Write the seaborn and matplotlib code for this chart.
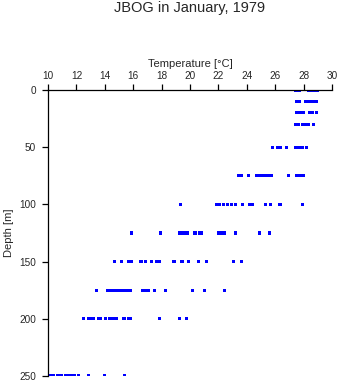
import matplotlib
matplotlib.use("Agg")
import matplotlib.pyplot as plt
import seaborn as sns
import pandas as pd

depths = [0, 10, 20, 30, 50, 75, 100, 125, 150, 175, 200, 250]
t_0 = [27.43, 27.55, 27.7, 28.35, 28.5, 28.65, 28.8, 28.98]
t_10 = [27.5, 27.7, 28.13, 28.3, 28.5, 28.7, 28.9]
t_20 = [27.5, 27.75, 28.0, 28.4, 28.65, 28.9]
t_30 = [27.43, 27.65, 27.9, 28.1, 28.35, 28.7]
t_50 = [25.8, 26.16, 26.37, 26.8, 27.43, 27.6, 27.75, 27.92, 28.2]
t_75 = [23.42, 23.63, 24.12, 24.68, 24.9, 25.1, 25.3, 25.5, 25.74, 26.94, 27.5, 27.75, 28.0]
t_100 = [19.3, 21.87, 22.08, 22.36, 22.64, 22.9, 23.2, 23.7, 24.19, 24.4, 25.32, 25.67, 26.34, 27.92]
t_125 = [15.85, 17.92, 19.26, 19.45, 19.64, 19.82, 20.35, 20.67, 20.8, 22.0, 22.2, 22.43, 23.2, 24.9, 25.6]
t_150 = [14.68, 15.18, 15.67, 15.88, 16.55, 16.87, 17.32, 17.64, 17.85, 18.87, 19.44, 19.9, 20.6, 21.16, 23.06, 23.63]
t_175 = [13.42, 14.19, 14.4, 14.6, 14.8, 15.0, 15.2, 15.4, 15.6, 15.81, 16.65, 16.87, 17.08, 17.5, 18.27, 20.18, 21.02, 22.43]
t_200 = [12.5, 12.85, 13.05, 13.2, 13.56, 13.7, 14.05, 14.3, 14.54, 14.7, 14.82, 15.35, 15.67, 15.81, 17.85, 19.26, 19.75]
t_250 = [10.18, 10.39, 10.67, 10.8, 10.95, 11.23, 11.45, 11.65, 11.87, 12.15, 12.85, 13.98, 15.39]
temps_by_depth = [t_0, t_10, t_20, t_30, t_50, t_75, t_100, t_125, t_150, t_175, t_200, t_250]

x_ticks = [10, 12, 14, 16, 18, 20, 22, 24, 26, 28, 30]
y_ticks = [0, 50, 100, 150, 200, 250]

rows = []
for d, ts in zip(depths, temps_by_depth):
    for t in ts:
        rows.append({"Temperature": t, "Depth": d})
df = pd.DataFrame(rows)

sns.set_style("white")
plt.rcParams["font.family"] = ["Liberation Sans", "DejaVu Sans"]

fig = plt.figure(figsize=(3.41, 3.84), dpi=100)
ax = fig.add_axes([48/341, 1-376/384, (332-48)/341, (376-90)/384])

sns.scatterplot(data=df, x="Temperature", y="Depth", ax=ax, marker="s",
                s=5, color="#0000ff", edgecolor="none", linewidth=0, legend=False)

ax.set_xlim(10, 30)
ax.set_ylim(250, 0)
ax.set_xticks(x_ticks)
ax.set_yticks(y_ticks)
ax.xaxis.tick_top()
ax.xaxis.set_label_position("top")
ax.tick_params(axis="both", direction="out", length=4.5, width=0.9, color="black",
               labelsize=7.2, pad=2, left=True, top=True, bottom=False, right=False)
ax.tick_params(axis="y", pad=4)
for side in ["right", "bottom"]:
    ax.spines[side].set_visible(False)
for side in ["left", "top"]:
    ax.spines[side].set_color("black")
    ax.spines[side].set_linewidth(0.9)
ax.set_xlabel("Temperature [°C]", fontsize=8, labelpad=3)
ax.set_ylabel("Depth [m]", fontsize=8, labelpad=4)
ax.set_facecolor("white")
fig.text(190/341, 1-8/384, "JBOG in January, 1979", ha="center", va="center", fontsize=10.5)

fig.savefig("out.png", dpi=100, facecolor="white")
